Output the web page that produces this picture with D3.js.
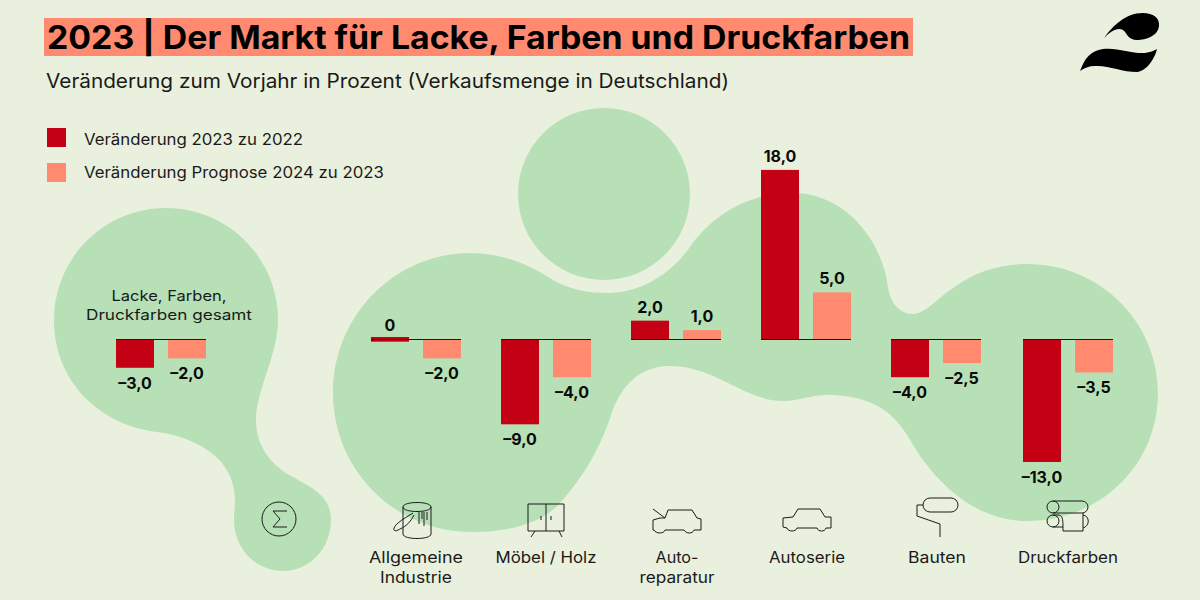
<!DOCTYPE html>
<html><head><meta charset="utf-8">
<script src="https://cdnjs.cloudflare.com/ajax/libs/d3/7.8.5/d3.min.js"></script>
<style>html,body{margin:0;padding:0;background:#e9f0dd}svg{display:block}text{font-family:Inter,"Open Sans",sans-serif;fill:#1a1a1a}</style>
</head><body><svg id="c" width="1200" height="600"></svg>
<script>
const categories=["Lacke, Farben, Druckfarben gesamt","Allgemeine Industrie","Möbel / Holz","Autoreparatur","Autoserie","Bauten","Druckfarben"];
const series=["Veränderung 2023 zu 2022","Veränderung Prognose 2024 zu 2023"];
const values2023=[-3,0,-9,2,18,-4,-13];
const values2024=[-2,-2,-4,1,5,-2.5,-3.5];
const colors=["#c30014","#ff8a70"];

const svg=d3.select("#c");
svg.append("rect").attr("width",1200).attr("height",600).attr("fill","#e9f0dd");
const green="#b8e0b6";
svg.append("path").attr("fill",green).attr("d","M54 320C54 382 100 425 157 432C190 436 235 455 235 500C235 505 234 512 234 520C234 548 255 571 283 571C310 571 331 548 331 520C331 495 310 487 293 477C270 465 256 445 256 420C256 390 278 355 278 320C278 258 228 208 166 208C104 208 54 258 54 320Z");
svg.append("circle").attr("fill",green).attr("cx",604).attr("cy",194).attr("r",86);
svg.append("path").attr("fill",green).attr("d","M470 253C500 253 527 263 553 280C570 290 590 293 607 293C640 293 670 275 690 247C710 218 745 193 793 193C845 193 882 240 888 287C890 303 900 314 913 314C925 314 938 298 953 288C975 272 1000 264 1027 264C1100 264 1158 322 1158 393C1158 465 1100 521 1027 521C980 521 945 490 923 460C905 435 895 395 827 395C810 395 800 401 783 401C745 401 715 366 670 366C640 366 622 385 612 412C605 435 590 470 560 503C540 525 505 532 472 532C395 532 333 470 333 393C333 316 395 253 470 253Z");

const T=(x,y,s,size,len,opt={})=>svg.append("text").attr("x",x).attr("y",y).attr("font-size",size)
  .attr("font-weight",opt.w||400).attr("text-anchor",opt.a||"start")
  .attr("textLength",len).attr("lengthAdjust","spacingAndGlyphs").text(s);

svg.append("rect").attr("x",44).attr("y",18).attr("width",869).attr("height",38).attr("fill","#ff8a70");
T(47,49,"2023 | Der Markt für Lacke, Farben und Druckfarben",32,863,{w:700}).style("fill","#000");
T(46,88,"Veränderung zum Vorjahr in Prozent (Verkaufsmenge in Deutschland)",19.5,683);

series.forEach((s,i)=>{
  svg.append("rect").attr("x",47).attr("y",128+i*35).attr("width",19).attr("height",19).attr("fill",colors[i]);
  T(84,145+i*33,s,15.5,[219,300][i]);
});

const y=d3.scaleLinear().domain([-13,18]).range([462,169.9]);
const x0=d3.scaleOrdinal(categories,[116,371,501,631,761,891,1023]);
const x1=d3.scaleBand(series,[0,90]).paddingInner(14/52);
const fmt=v=>d3.format(".1f")(Math.abs(v)).replace(".",",");
[values2023,values2024].forEach((vals,si)=>{
  svg.append("g").selectAll("rect").data(vals).join("rect")
    .attr("x",(d,i)=>x0(categories[i])+x1(series[si])).attr("width",x1.bandwidth())
    .attr("y",d=>d===0?y(0)-2.5:Math.min(y(0),y(d)))
    .attr("height",d=>d===0?4.7:Math.abs(y(d)-y(0)))
    .attr("fill",colors[si]);
  svg.append("g").selectAll("text").data(vals).join("text")
    .attr("x",(d,i)=>x0(categories[i])+x1(series[si])+x1.bandwidth()/2)
    .attr("y",d=>d>=0?(d===0?y(0)-8.5:y(d)-8):y(d)+21)
    .attr("text-anchor","middle").attr("font-size",16).attr("font-weight",700).style("fill","#0a0a0a")
    .text(d=>(d<0?"–":"")+(d===0?"0":fmt(d)));
});
svg.append("g").selectAll("line").data(categories).join("line")
  .attr("x1",d=>x0(d)).attr("x2",d=>x0(d)+90).attr("y1",y(0)).attr("y2",y(0))
  .attr("stroke","#1a1a1a").attr("stroke-width",1);

T(169,301,"Lacke, Farben,",14.5,115,{a:"middle"});
T(169,320,"Druckfarben gesamt",14.5,166,{a:"middle"});
[["Allgemeine",416,563,94],["Industrie",416,583,72],["Möbel / Holz",546,563,101],["Auto-",677,563,43],["reparatur",677,583,75],["Autoserie",807,563,76],["Bauten",937,563,58],["Druckfarben",1068,563,100]]
 .forEach(a=>T(a[1],a[2],a[0],15.5,a[3],{a:"middle"}));

// Icons
const ic=svg.append("g").attr("fill","none").attr("stroke","#1a1a1a").attr("stroke-width",1);
const P=d=>ic.append("path").attr("d",d);
ic.append("circle").attr("cx",279).attr("cy",519).attr("r",17);
P("M287 511H273L280 519L273 527H287");
P("M403 507C403 501 431 501 431 507C431 513 403 513 403 507V534C403 540 431 540 431 534V507");
P("M413 513C405 518 396 523 394 528C393 532 397 531 400 529C407 526 411 521 414 515");
P("M419 512V524M422 512V519M424 512V526M427 512V520");
P("M528 504H564V531H528ZM546 504V531M541 516V520M551 516V520M535 531L531 537M559 531L562 537");
P("M653 509L665 518M668 510H692L697 518L701 519V530H694C693 534 686 534 684 530H665C664 534 656 534 654 530H653V520L660 518H665L668 510");
P("M798 509H820L825 517L831 517V528H826C825 532 818 532 817 528H797C796 532 788 532 787 528L783 527V518L793 517Z");
P("M930 498H951A7 7 0 0 1 951 512H930A7 7 0 0 1 930 498ZM923 505H917V516L940 524V537");
P("M1053 501H1082A6 6 0 0 1 1082 513H1053M1053 501A6 6 0 0 0 1053 513A6 6 0 0 0 1053 501M1053 515A6 6 0 0 0 1053 527A6 6 0 0 0 1053 515H1058C1062 515 1063 518 1063 527V531H1083V513M1053 527H1063M1083 515C1090 516 1090 526 1083 528");

// Logo
svg.append("path").attr("fill","#000").attr("d","M1104 38C1112 27 1125 13 1143 13C1153 13 1160 18 1159 26C1158 36 1146 40 1137 40C1128 40 1127 33 1123 30C1117 27 1110 32 1104 38Z");
svg.append("path").attr("fill","#000").attr("d","M1080 71C1085 58 1090 51 1103 49C1117 47 1132 54 1145 53C1150 52 1154 51 1157 49C1155 58 1147 71 1137 72C1122 72 1108 65 1095 66C1089 66 1084 68 1080 71Z");
</script></body></html>
